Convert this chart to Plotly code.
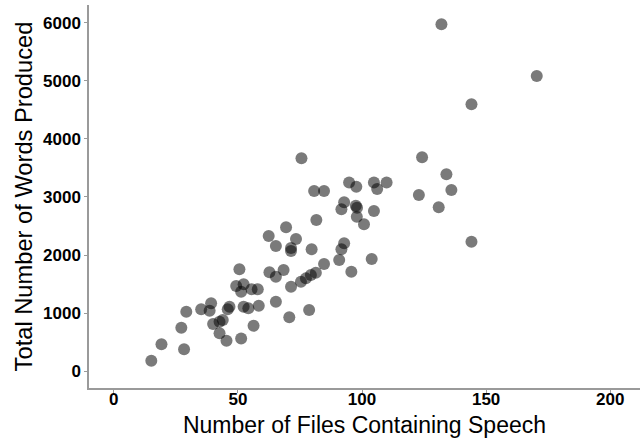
import plotly.graph_objects as go

# Files containing speech vs. total words produced, one point per participant
files_with_speech = [
    15.1, 19.2, 28.3, 27.2, 29.2, 35.2, 38.6, 39.2, 40.0, 42.6,
    43.9, 42.6, 45.4, 45.9, 46.6, 49.3, 50.6, 51.3, 52.3, 51.3,
    55.5, 58.0, 62.7, 65.3, 68.4, 71.4, 75.4, 77.4, 79.4, 81.4,
    84.7, 52.3, 54.2, 58.4, 65.3, 56.3, 70.7, 78.7, 75.6, 80.7,
    84.7, 81.6, 69.4, 62.4, 65.3, 73.4, 71.4, 71.4, 79.7, 124.2,
    122.9, 94.8, 97.7, 104.8, 106.1, 109.9, 92.8, 91.7, 97.5, 98.0,
    97.9, 100.8, 104.8, 92.8, 91.7, 90.8, 103.9, 95.7, 134.0, 136.0,
    130.9, 144.1, 132.0, 170.4, 144.1,
]
total_words = [
    178, 460, 374, 747, 1023, 1063, 1040, 1167, 810, 850,
    880, 650, 523, 1065, 1109, 1466, 1753, 562, 1494, 1368,
    1408, 1408, 1701, 1626, 1741, 1454, 1540, 1597, 1655, 1695,
    1845, 1109, 1080, 1126, 1195, 781, 926, 1052, 3666, 3103,
    3103, 2603, 2477, 2328, 2155, 2276, 2070, 2120, 2098, 3684,
    3034, 3251, 3178, 3251, 3138, 3251, 2908, 2787, 2850, 2815,
    2661, 2529, 2759, 2201, 2098, 1914, 1931, 1712, 3391, 3121,
    2822, 2229, 5977, 5086, 4598,
]

x_ticks = [0, 50, 100, 150, 200]
y_ticks = [0, 1000, 2000, 3000, 4000, 5000, 6000]

FONT = "Liberation Sans, Arial, sans-serif"

fig = go.Figure(
    go.Scatter(
        x=files_with_speech,
        y=total_words,
        mode="markers",
        marker=dict(size=12, color="rgba(0,0,0,0.52)", line=dict(width=0)),
        hoverinfo="skip",
    )
)

axis_common = dict(
    showgrid=False,
    zeroline=False,
    showline=True,
    linecolor="#9a9a9a",
    linewidth=1.5,
    ticks="outside",
    ticklen=3,
    tickwidth=1.2,
    tickcolor="#9a9a9a",
    tickfont=dict(family=FONT, size=17, color="black", weight="bold"),
    automargin=False,
)

fig.update_layout(
    width=644,
    height=438,
    margin=dict(l=89, r=4, t=5, b=50),
    paper_bgcolor="white",
    plot_bgcolor="white",
    showlegend=False,
    xaxis=dict(
        range=[-10, 212],
        tickvals=x_ticks,
        ticktext=[str(v) for v in x_ticks],
        ticklabelstandoff=-8,
        title=dict(text="Number of Files Containing Speech",
                   font=dict(family=FONT, size=23, color="black"),
                   standoff=11),
        **axis_common,
    ),
    yaxis=dict(
        range=[-293, 6310],
        tickvals=y_ticks,
        ticktext=[str(v) for v in y_ticks],
        title=dict(text="Total Number of Words Produced",
                   font=dict(family=FONT, size=23.7, color="black"),
                   standoff=4),
        **axis_common,
    ),
)

fig.write_html("out.html")
